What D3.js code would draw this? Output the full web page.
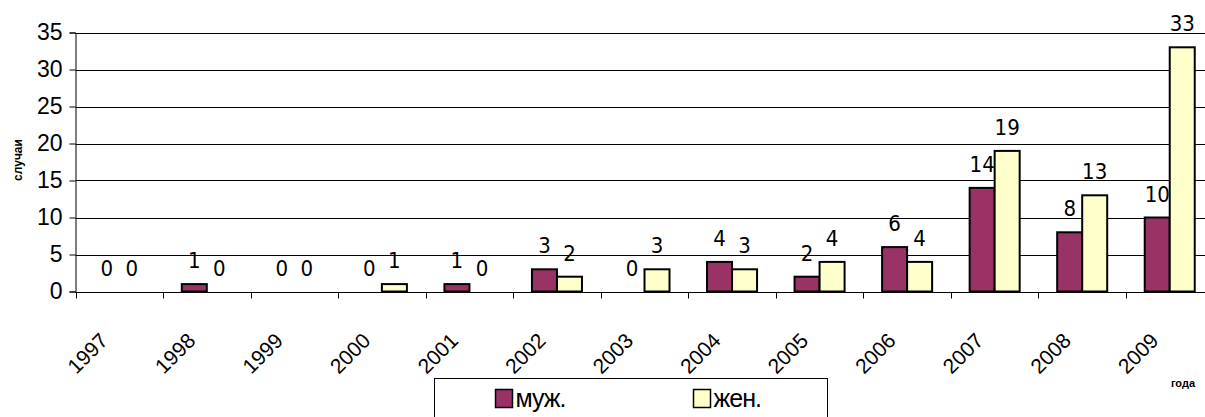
<!DOCTYPE html>
<html>
<head>
<meta charset="utf-8">
<script src="https://cdn.jsdelivr.net/npm/d3@7"></script>
<style>
  body { margin: 0; background: #fff; }
  svg { display: block; }
</style>
</head>
<body>
<svg width="1205" height="417"></svg>
<script>
var years = ["1997", "1998", "1999", "2000", "2001", "2002", "2003", "2004", "2005", "2006", "2007", "2008", "2009"];
var male = [0, 1, 0, 0, 1, 3, 0, 4, 2, 6, 14, 8, 10];
var female = [0, 0, 0, 1, 0, 2, 3, 3, 4, 4, 19, 13, 33];
var seriesNames = ["муж.", "жен."];
var seriesColors = ["#993366", "#FFFFCC"];
var yTicks = [0, 5, 10, 15, 20, 25, 30, 35];

var svg = d3.select("svg"),
    width = +svg.attr("width"),
    height = +svg.attr("height");

var plotLeft = 75.5, plotRight = 1213.5, plotTop = 32.5, plotBottom = 291.5;

var x = d3.scaleBand().domain(years).range([plotLeft, plotRight]).padding(0);
var bw = x.bandwidth() / 3.5;   // excel gap width 150%
var y = d3.scaleLinear().domain([0, 35]).range([plotBottom, plotTop]);

// gridlines
svg.append("g")
  .selectAll("line")
  .data(yTicks)
  .enter().append("line")
    .attr("x1", plotLeft).attr("x2", width)
    .attr("y1", function(d) { return Math.round(y(d)) + 0.5; })
    .attr("y2", function(d) { return Math.round(y(d)) + 0.5; })
    .attr("stroke", "#000")
    .attr("stroke-width", 1);

// y axis
var yAxis = svg.append("g")
    .attr("transform", "translate(" + plotLeft + ",0)")
    .call(d3.axisLeft(y).tickValues(yTicks).tickSize(6).tickPadding(7));
yAxis.select(".domain").attr("stroke", "#000");
yAxis.selectAll(".tick line").attr("stroke", "#000");
yAxis.selectAll(".tick text")
    .attr("font-family", "Liberation Sans, Arial, sans-serif")
    .attr("font-size", 23)
    .attr("fill", "#000");

// x axis: ticks at category boundaries
var xg = svg.append("g").attr("transform", "translate(0," + (Math.round(plotBottom) + 0.5) + ")");
xg.append("line").attr("x1", plotLeft).attr("x2", width).attr("stroke", "#000");
xg.selectAll(".xt")
  .data(years)
  .enter().append("line")
    .attr("class", "xt")
    .attr("x1", function(d) { return Math.round(x(d)) + 0.5; })
    .attr("x2", function(d) { return Math.round(x(d)) + 0.5; })
    .attr("y1", 0).attr("y2", 6)
    .attr("stroke", "#000");

svg.append("g")
  .selectAll("text")
  .data(years)
  .enter().append("text")
    .attr("transform", function(d) {
      return "translate(" + (x(d) + x.bandwidth() / 2 - 10) + "," + 342 + ") rotate(-45)";
    })
    .attr("text-anchor", "end")
    .attr("font-family", "Liberation Sans, Arial, sans-serif")
    .attr("font-size", 21)
    .text(function(d) { return d; });

// bars
var series = [male, female];
series.forEach(function(vals, si) {
  var g = svg.append("g");
  g.selectAll("rect")
    .data(vals)
    .enter().append("rect")
      .attr("x", function(d, i) { return x(years[i]) + 0.75 * bw + si * bw; })
      .attr("y", function(d) { return y(d); })
      .attr("width", bw)
      .attr("height", function(d) { return y(0) - y(d); })
      .attr("fill", seriesColors[si])
      .attr("stroke", "#000")
      .attr("stroke-width", 2);
  g.selectAll("text")
    .data(vals)
    .enter().append("text")
      .attr("x", function(d, i) { return x(years[i]) + 0.75 * bw + si * bw + bw / 2; })
      .attr("y", function(d) { return y(d) - 16; })
      .attr("text-anchor", "middle")
      .attr("font-family", "DejaVu Sans Condensed, DejaVu Sans, sans-serif")
      .attr("font-size", 22)
      .text(function(d) { return d; });
});

// axis titles
svg.append("text")
    .attr("transform", "translate(22,160) rotate(-90)")
    .attr("text-anchor", "middle")
    .attr("font-family", "Liberation Sans, Arial, sans-serif")
    .attr("font-size", 12)
    .attr("font-weight", "bold")
    .text("случаи");

svg.append("text")
    .attr("x", 1183).attr("y", 387)
    .attr("text-anchor", "middle")
    .attr("font-family", "Liberation Sans, Arial, sans-serif")
    .attr("font-size", 11)
    .attr("font-weight", "bold")
    .text("года");

// legend
var legend = svg.append("g");
legend.append("rect")
    .attr("x", 434.5).attr("y", 378.5)
    .attr("width", 393).attr("height", 50)
    .attr("fill", "#fff").attr("stroke", "#000");
var lx = [495.5, 693.5];
seriesNames.forEach(function(name, i) {
  legend.append("rect")
      .attr("x", lx[i]).attr("y", 389.5)
      .attr("width", 17).attr("height", 18)
      .attr("fill", seriesColors[i])
      .attr("stroke", "#000")
      .attr("stroke-width", 1.5);
  legend.append("text")
      .attr("x", lx[i] + 20).attr("y", 407)
      .attr("font-family", "Liberation Sans, Arial, sans-serif")
      .attr("font-size", 25)
      .attr("letter-spacing", -1)
      .text(name);
});
</script>
</body>
</html>
